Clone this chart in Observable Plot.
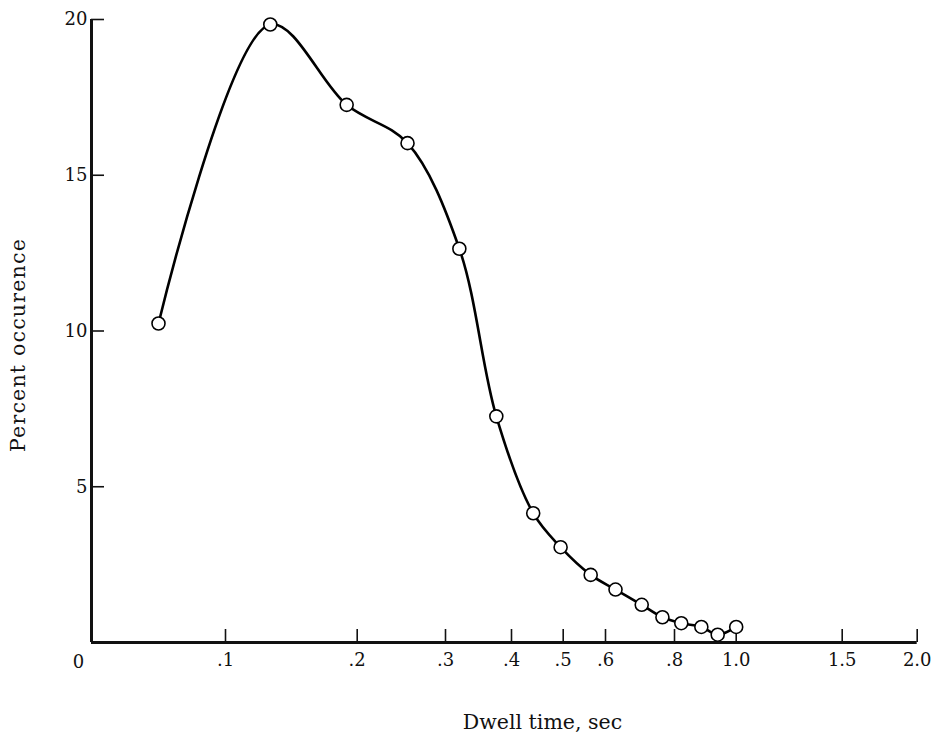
<!DOCTYPE html>
<html>
<head>
<meta charset="utf-8">
<script src="https://cdn.jsdelivr.net/npm/d3@7"></script>
<script src="https://cdn.jsdelivr.net/npm/@observablehq/plot@0.6"></script>
<style>
  html, body { margin: 0; padding: 0; background: #fff; }
  svg { font-family: "DejaVu Serif", serif; }
</style>
</head>
<body>
<div id="chart"></div>
<script>
// Data
const dwellTime = [0.05, 0.134, 0.192, 0.257, 0.321, 0.377, 0.442, 0.495, 0.565, 0.629, 0.705, 0.765, 0.822, 0.887, 0.94, 1.0];
const percentOccurrence = [10.24, 19.84, 17.26, 16.03, 12.64, 7.26, 4.15, 3.06, 2.17, 1.7, 1.21, 0.81, 0.62, 0.5, 0.25, 0.5];

const xTicks = [0, 0.1, 0.2, 0.3, 0.4, 0.5, 0.6, 0.8, 1.0, 1.5, 2.0];
const xTickLabels = ["0", ".1", ".2", ".3", ".4", ".5", ".6", ".8", "1.0", "1.5", "2.0"];
const yTicks = [5, 10, 15, 20];
const xLabel = "Dwell time, sec";
const yLabel = "Percent occurence";

const data = dwellTime.map((t, i) => ({t, p: percentOccurrence[i]}));
const labelOf = new Map(xTicks.map((t, i) => [t, xTickLabels[i]]));

// the printed axis is hand-spaced: piecewise-linear scale through the tick stops
const xRange = [91, 225, 356.7, 445, 511, 562.7, 605, 674, 735.7, 841.7, 916.7];

const chart = Plot.plot({
  width: 939,
  height: 741,
  marginLeft: 91,
  marginRight: 22,
  marginTop: 19,
  marginBottom: 99,
  style: {fontFamily: "DejaVu Serif, serif", fontSize: "18px", color: "#111", background: "#fff"},
  x: {type: "linear", domain: xTicks, range: xRange},
  y: {domain: [0, 20], range: [642, 19]},
  marks: [
    // tick marks pointing inward
    Plot.axisY(yTicks, {anchor: "left", tickSize: -13, tickFormat: () => "", strokeWidth: 1.6, label: null}),
    Plot.axisX(xTicks.slice(1), {anchor: "bottom", tickSize: -13, tickFormat: () => "", strokeWidth: 1.6, label: null}),
    // tick labels
    Plot.axisY(yTicks, {anchor: "left", tickSize: 0, tickPadding: 4, fontSize: 18, label: null}),
    Plot.axisX(xTicks.slice(1), {anchor: "bottom", tickSize: 0, tickPadding: 11, fontSize: 18, tickFormat: d => labelOf.get(d), label: null}),
    Plot.text(["0"], {x: 0, y: 0, dx: -13, dy: 20, fontSize: 18}),
    // axis lines
    Plot.ruleX([0], {y1: 0, y2: 20, strokeWidth: 3}),
    Plot.ruleY([0], {x1: 0, x2: 2.0, strokeWidth: 3}),
    // axis titles
    Plot.text([xLabel], {frameAnchor: "bottom", dx: 38, dy: 86, fontSize: 20.5}),
    Plot.text([yLabel], {frameAnchor: "left", textAnchor: "middle", rotate: -90, dx: -73, dy: 14, fontSize: 20.5}),
    // curve and points
    Plot.line(data, {x: "t", y: "p", curve: "catmull-rom", stroke: "#000", strokeWidth: 2.6}),
    Plot.dot(data, {x: "t", y: "p", r: 6.5, fill: "#fff", stroke: "#000", strokeWidth: 1.6})
  ]
});
d3.select(chart).selectAll("text").filter(function () { return this.textContent === yLabel; })
  .style("letter-spacing", "1.2px");
document.getElementById("chart").appendChild(chart);
</script>
</body>
</html>
